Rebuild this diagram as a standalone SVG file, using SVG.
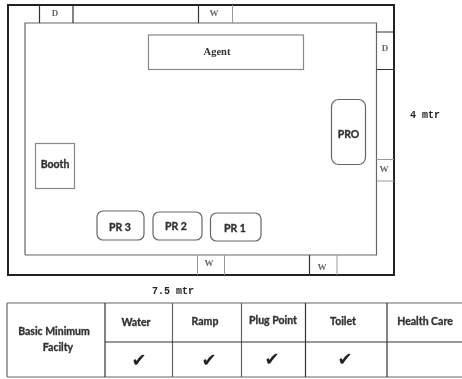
<svg xmlns="http://www.w3.org/2000/svg" width="462" height="379" viewBox="0 0 462 379">
<style>
.wall{fill:none;stroke:#222;stroke-width:2}
.in{fill:none;stroke:#666;stroke-width:1.2}
.dk{fill:none;stroke:#333;stroke-width:1.2}
.lt{fill:none;stroke:#999;stroke-width:1}
.box{fill:#fff;stroke:#888;stroke-width:1.2}
.rnd{fill:#fff;stroke:#666;stroke-width:1.2}
.s{font-family:"Liberation Serif",serif;font-size:9px;fill:#666;text-anchor:middle;font-weight:bold}
.c{font-family:Lato,"Liberation Sans",sans-serif;font-size:10.5px;font-weight:bold;fill:#333;stroke:#333;stroke-width:0.35px;text-anchor:middle}
.m{font-family:"Liberation Mono",monospace;font-size:10px;font-weight:bold;fill:#222}
.k{font-family:"DejaVu Sans",sans-serif;font-size:18px;fill:#222;text-anchor:middle}
</style>
<defs><filter id="b" x="-5%" y="-5%" width="110%" height="110%"><feGaussianBlur stdDeviation="0.55"/></filter></defs>
<rect width="462" height="379" fill="#fff"/>
<g filter="url(#b)">
<g id="connectors">
<rect class="wall" x="8" y="5" width="386" height="270"/>
<path class="in" d="M25 255V23H376.500V255H25"/>
<path class="dk" d="M39.500 5V23M73 5V23M198.500 5V23"/>
<path class="lt" d="M232.500 5V23"/>
<path class="dk" d="M376.500 32H394M376.500 69.500H394M309.500 255V275"/>
<path class="lt" d="M376.500 159.500H394M376.500 181H394M197.500 255V275M224.500 255V275M337 255V275"/>
</g>
<g id="door-top"><text class="s" x="55" y="16">D</text></g>
<g id="window-top"><text class="s" x="214" y="16">W</text></g>
<g id="door-right"><text class="s" x="385" y="51">D</text></g>
<g id="window-right"><text class="s" x="384" y="172">W</text></g>
<g id="window-bottom-1"><text class="s" x="209" y="266">W</text></g>
<g id="window-bottom-2"><text class="s" x="322" y="270">W</text></g>
<g id="agent"><rect class="box" x="148.500" y="35" width="155" height="34.500"/><text class="s" x="217" y="55" style="font-size:10.500px;fill:#333">Agent</text></g>
<g id="pro"><rect class="rnd" x="331.500" y="99.500" width="34" height="65" rx="7"/><text class="c" x="348.500" y="137.500">PRO</text></g>
<g id="booth"><rect class="box" x="35.500" y="143.500" width="39" height="45"/><text class="c" x="55" y="168">Booth</text></g>
<g id="pr3"><rect class="rnd" x="97" y="211" width="47" height="29" rx="6"/><text class="c" x="120" y="231">PR 3</text></g>
<g id="pr2"><rect class="rnd" x="153" y="212" width="49" height="28" rx="6"/><text class="c" x="176" y="230">PR 2</text></g>
<g id="pr1"><rect class="rnd" x="210.500" y="213" width="50.500" height="28" rx="6"/><text class="c" x="235" y="232">PR 1</text></g>
<text class="m" x="410" y="118">4 mtr</text>
<text class="m" x="152" y="294">7.5 mtr</text>
<g id="table">
<path class="in" d="M7 303H462M7 377H462M7 303V377M172.500 303V377M241.500 303V377"/>
<path class="dk" d="M105 303V377M105 342H462M305.500 303V377M387 303V377"/>
<text class="c" x="54" y="335">Basic Minimum</text>
<text class="c" x="58" y="351">Facilty</text>
<text class="c" x="136" y="326">Water</text>
<text class="c" x="205" y="325">Ramp</text>
<text class="c" x="273" y="324">Plug Point</text>
<text class="c" x="343" y="325">Toilet</text>
<text class="c" x="425" y="325">Health Care</text>
<text class="k" x="139" y="366">✔</text>
<text class="k" x="209" y="366">✔</text>
<text class="k" x="272" y="365">✔</text>
<text class="k" x="345" y="365">✔</text>
</g>
</g>
</svg>
